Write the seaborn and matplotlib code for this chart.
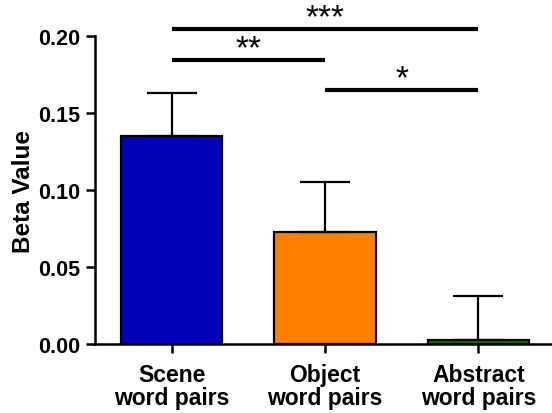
import matplotlib
matplotlib.use("Agg")
import matplotlib.pyplot as plt
import seaborn as sns
import pandas as pd

categories = ["Scene\nword pairs", "Object\nword pairs", "Abstract\nword pairs"]
values = [0.1354, 0.0730, 0.0030]
errors = [0.0279, 0.0325, 0.0285]
colors = ["#0000B8", "#FF8000", "#008000"]
ylabel = "Beta Value"
yticks = [0.00, 0.05, 0.10, 0.15, 0.20]
ytick_labels = ["0.00", "0.05", "0.10", "0.15", "0.20"]
sig_pairs = [(0, 2, 0.2044, "***"), (0, 1, 0.1847, "**"), (1, 2, 0.1653, "*")]

sns.set_style("ticks")
plt.rcParams['font.family'] = ['Liberation Sans', 'DejaVu Sans']
plt.rcParams['font.weight'] = 'bold'
plt.rcParams['text.color'] = 'black'
plt.rcParams['axes.labelcolor'] = 'black'
plt.rcParams['xtick.color'] = 'black'
plt.rcParams['ytick.color'] = 'black'
plt.rcParams['axes.edgecolor'] = 'black'

fig = plt.figure(figsize=(5.52, 4.14), dpi=100)
ax = fig.add_axes([0.172, 0.1655, 0.828, 0.745])

df = pd.DataFrame({"cat": categories, "val": values})
sns.barplot(data=df, x="cat", y="val", hue="cat", palette=colors, legend=False,
            width=0.66, edgecolor="black", linewidth=1.6, ax=ax, errorbar=None,
            saturation=1)

ax.errorbar(range(len(values)), values, yerr=[[0]*len(values), errors], fmt="none",
            ecolor="black", elinewidth=1.6, capsize=18, capthick=1.6, zorder=1)

ax.set_ylim(0, 0.2)
ax.set_xlim(-0.5, 2.48)
ax.set_yticks(yticks)
ax.set_yticklabels(ytick_labels, fontsize=15.5, fontweight='bold')
ax.set_xticks(range(len(categories)))
ax.set_xticklabels(categories, fontsize=16.5, fontweight='bold', linespacing=1.0)
ax.set_xlabel("")
ax.set_ylabel(ylabel, fontsize=17.5, fontweight='bold', labelpad=2)

for s in ["top", "right"]:
    ax.spines[s].set_visible(False)
for s in ["left", "bottom"]:
    ax.spines[s].set_linewidth(1.8)
ax.tick_params(axis='both', width=1.8, length=6.5, direction='out', pad=4)
ax.tick_params(axis='x', pad=7)

for a, b, y, lab in sig_pairs:
    ax.plot([a, b], [y, y], color="black", lw=3, clip_on=False, solid_capstyle='butt')
    ax.text((a + b) / 2, y + 0.0017, lab, ha="center", va="baseline", fontsize=24,
            fontweight="normal", clip_on=False)

fig.savefig("out.png", dpi=100)
